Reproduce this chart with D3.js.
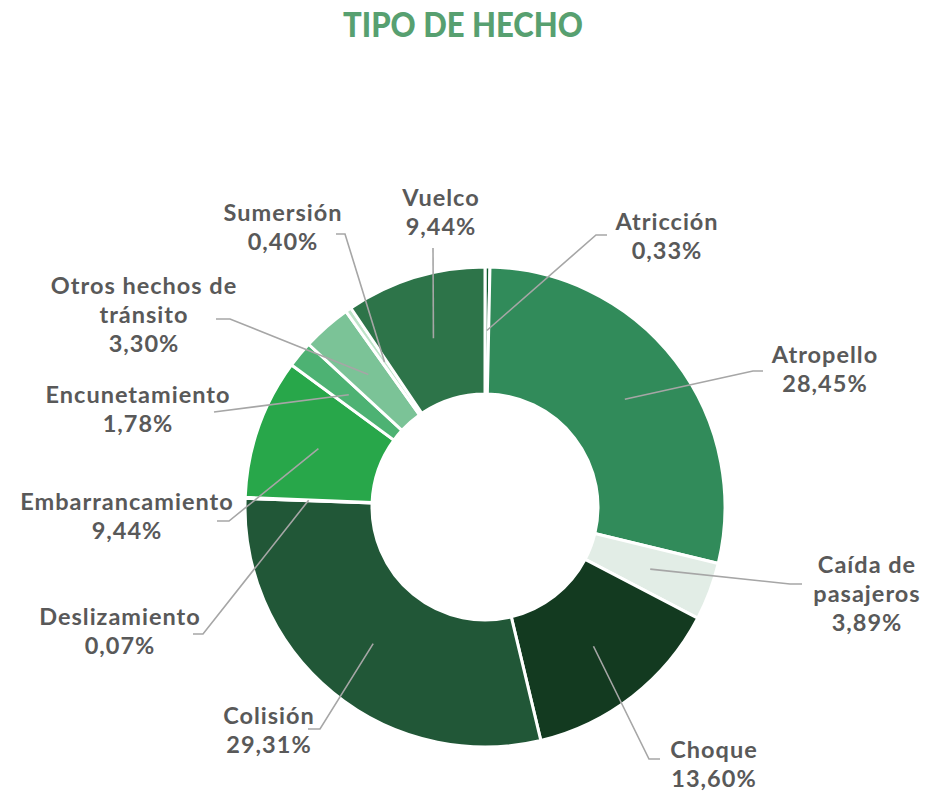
<!DOCTYPE html>
<html>
<head>
<meta charset="utf-8">
<script src="https://cdn.jsdelivr.net/npm/d3@7"></script>
<style>
  body { margin: 0; background: #fff; }
  .title { font-family: Lato, "Open Sans", sans-serif; font-weight: 900; fill: #57a070; }
  .lbl { font-family: Lato, "Open Sans", sans-serif; font-weight: 700; font-size: 23.5px; letter-spacing: 1px; fill: #595959; }
  .leader { fill: none; stroke: #a6a6a6; stroke-width: 1.6; }
</style>
</head>
<body>
<div id="chart"></div>
<script>
// data, clockwise from 12 o'clock
var categories = ["Atricción", "Atropello", "Caída de pasajeros", "Choque", "Colisión",
  "Deslizamiento", "Embarrancamiento", "Encunetamiento", "Otros hechos de tránsito",
  "Sumersión", "Vuelco"];
var percents = [0.33, 28.45, 3.89, 13.60, 29.31, 0.07, 9.44, 1.78, 3.30, 0.40, 9.44];
var colors = ["#0e5b2c", "#318b5a", "#e2ede6", "#133a20", "#215737", "#1e5a36",
  "#28a74a", "#4db273", "#7bc397", "#bee3c8", "#2d7449"];

// label placement: x = text centre, y = first baseline, words = words on first line,
// pts = leader points from label side (the slice end is added from the arc centroid)
var labelLayout = [
  { x: 667, y: 230, words: 1, pts: [[607, 235], [596, 235]] },
  { x: 825, y: 363, words: 1, pts: [[763, 371], [753, 371]] },
  { x: 867, y: 573, words: 2, pts: [[802, 584], [790, 584]] },
  { x: 714, y: 758, words: 1, pts: [[660, 759], [649, 759]] },
  { x: 269, y: 724, words: 1, pts: [[308, 729], [320, 729]] },
  { x: 120, y: 625, words: 1, pts: [[193, 634], [203, 634]] },
  { x: 127, y: 510, words: 1, pts: [[217, 521], [229, 521]] },
  { x: 138, y: 403, words: 1, pts: [[214, 412]] },
  { x: 144, y: 294, words: 3, pts: [[216, 319], [230, 319]] },
  { x: 283, y: 221, words: 1, pts: [[336, 234], [345, 234]] },
  { x: 441, y: 206, words: 1, pts: [[433, 248]] }
];

var svgWidth = 926;
var svgHeight = 791;
var cx = 485, cy = 507;
var outerR = 240, innerR = 113;
var lineH = 29;

var svg = d3.select("#chart").append("svg")
  .attr("width", svgWidth)
  .attr("height", svgHeight);

svg.append("text")
  .attr("class", "title")
  .attr("x", 463)
  .attr("y", 37)
  .attr("text-anchor", "middle")
  .attr("font-size", 35)
  .attr("textLength", 240)
  .attr("lengthAdjust", "spacingAndGlyphs")
  .text("TIPO DE HECHO");

var fmt = d3.formatLocale({ decimal: ",", thousands: ".", grouping: [3], currency: ["", ""] }).format(".2f");

var data = categories.map(function(c, i) {
  return { name: c, value: percents[i], color: colors[i], layout: labelLayout[i] };
});

var pie = d3.pie().sort(null).value(d => d.value);
var arc = d3.arc().innerRadius(innerR).outerRadius(outerR);
var arcs = pie(data);

var g = svg.append("g").attr("transform", `translate(${cx}, ${cy})`);

g.selectAll("path.slice")
  .data(arcs)
  .enter()
  .append("path")
  .attr("class", "slice")
  .attr("d", arc)
  .attr("fill", d => d.data.color)
  .attr("stroke", "#fff")
  .attr("stroke-width", 3)
  .attr("stroke-linejoin", "miter");

// leader lines
var line = d3.line();
svg.selectAll("path.leader")
  .data(arcs)
  .enter()
  .append("path")
  .attr("class", "leader")
  .attr("d", function(d) {
    var c = arc.centroid(d);
    var pts = d.data.layout.pts.concat([[cx + c[0], cy + c[1]]]);
    return line(pts);
  });

// labels
var labels = svg.selectAll("text.lbl")
  .data(arcs)
  .enter()
  .append("text")
  .attr("class", "lbl")
  .attr("text-anchor", "middle")
  .attr("x", d => d.data.layout.x)
  .attr("y", d => d.data.layout.y);

labels.each(function(d) {
  var words = d.data.name.split(" ");
  var n = d.data.layout.words;
  var lines = [words.slice(0, n).join(" ")];
  if (words.length > n) lines.push(words.slice(n).join(" "));
  lines.push(fmt(d.data.value) + "%");
  var t = d3.select(this);
  lines.forEach(function(l, i) {
    t.append("tspan")
      .attr("x", d.data.layout.x)
      .attr("dy", i === 0 ? 0 : lineH)
      .text(l);
  });
});
</script>
</body>
</html>
